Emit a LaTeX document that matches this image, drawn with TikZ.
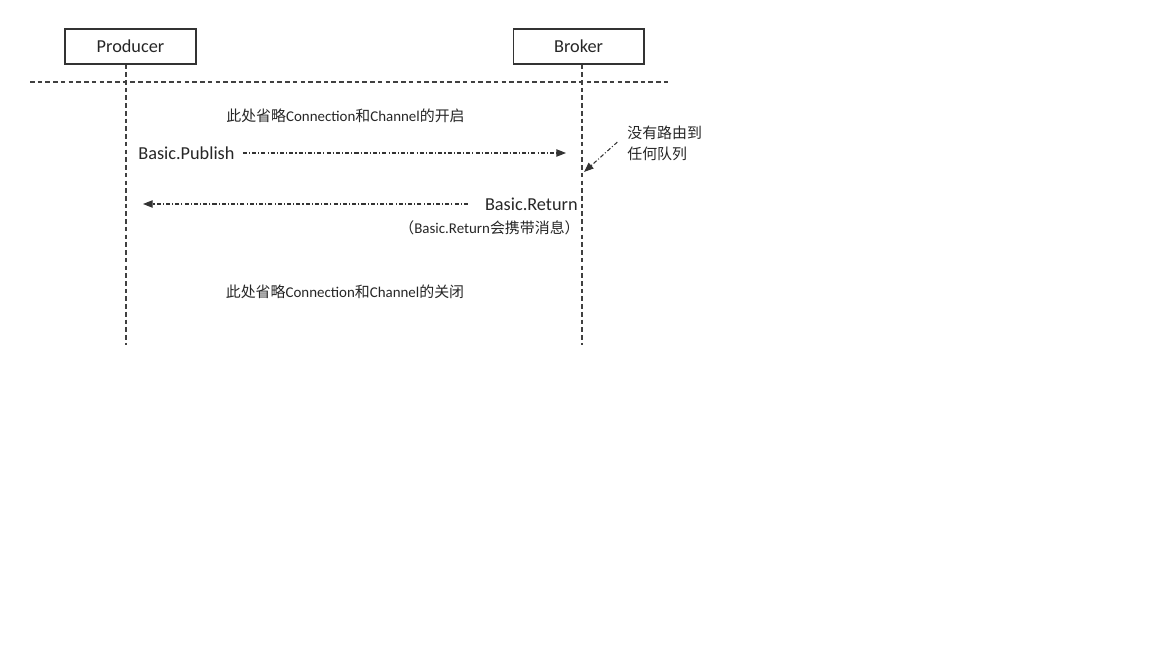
\documentclass[tikz,border=0pt]{standalone}
\usepackage{fontspec}
\setmainfont{Carlito}
\newfontfamily\cjk{Noto Sans CJK SC}
\usetikzlibrary{positioning,arrows.meta}
\newcommand{\zh}[1]{{\cjk #1}}

\begin{document}
\begin{tikzpicture}[x=0.02cm, y=-0.02cm, node distance=1cm, auto,
  actor/.style={draw=black!80, line width=0.65pt, minimum width=2.62cm, minimum height=0.7cm, inner sep=0pt, text=black!85, font=\fontsize{10.4}{12}\selectfont},
  life/.style={draw=black!75, line width=0.65pt, dash pattern=on 2.6pt off 1.8pt},
  msg/.style={draw=black!80, line width=0.6pt, dash pattern=on 2.3pt off 1.2pt on 0.6pt off 1.2pt, -{Triangle[length=5.5pt,width=4.2pt]}},
  lbl/.style={inner sep=0pt, text=black!85, font=\fontsize{10.4}{12}\selectfont},
  note/.style={inner sep=0pt, text=black!85, font=\fontsize{8.5}{11.9}\selectfont}]
\useasboundingbox (0,0) rectangle (1152,648);
\node[actor] (P) at (130.5,46.5) {Producer};
  \node[actor] (B) [right=6.32cm of P] {Broker};
  \coordinate (L) at (30,82);
  \coordinate (R) at (670,82);
  \coordinate (PE) at (126,345);
  \coordinate (BE) at (582,345);
  \node[note] (O) at (345.5,116) {\zh{此处省略}Connection\zh{和}Channel\zh{的开启}};
  \node[lbl, anchor=west] (A) at (138,153) {Basic.Publish};
  \coordinate (AE) at (566,153);
  \node[note, anchor=west, align=left] (N) at (627,143) {\zh{没有路由到}\\\zh{任何队列}};
  \coordinate (H) at (584,172);
  \node[lbl, anchor=east] (C) at (578,204) {Basic.Return};
  \coordinate (CE) at (143,204);
  \node[note, anchor=east] (M) at (580,228) {\zh{（}Basic.Return\zh{会携带消息）}};
  \node[note] (D) at (345,292) {\zh{此处省略}Connection\zh{和}Channel\zh{的关闭}};
   \draw[life] (L) -- (R);
   \draw[life] (P.south -| PE) -- (PE);
   \draw[life] (B.south -| BE) -- (BE);
   \draw[msg] ([xshift=4.5pt]A.east) -- (AE);
   \draw[msg] ([xshift=-9.5pt]C.west) -- (CE);
   \draw[msg] ([shift={(-5.5pt,0.5pt)}]N.west) -- (H);
\end{tikzpicture}
\end{document}
